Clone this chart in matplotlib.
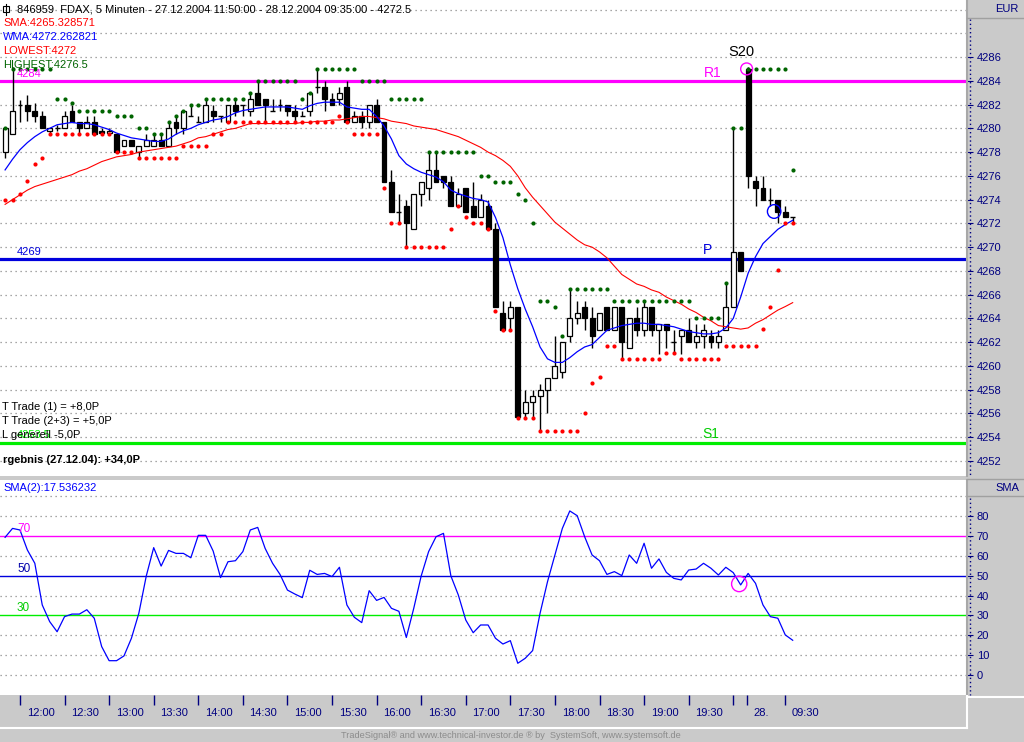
import numpy as np
import matplotlib
matplotlib.use('Agg')
import matplotlib.pyplot as plt
from matplotlib.patches import Rectangle, Ellipse
from matplotlib.lines import Line2D
from matplotlib.transforms import blended_transform_factory

plt.rcParams['font.family'] = ['Liberation Sans', 'DejaVu Sans']


########## Data (5 min bars, 27.12.2004 11:50 - 28.12.2004 09:35)
opens = [4278, 4279.5, 4282, 4282, 4281.5, 4281, 4279.8, 4280, 4280, 4281.5,
         4280.5, 4280, 4280.5, 4279.8, 4279.6, 4279.5, 4278.5, 4279, 4278, 4278.5,
         4278.5, 4279, 4278.5, 4280.5, 4280, 4281, 4280.5, 4280.5, 4281.5, 4281,
         4280.5, 4282, 4282, 4281.5, 4283, 4282.5, 4281.5, 4282, 4282, 4281.5,
         4281, 4281.5, 4283.5, 4283.5, 4282.5, 4282.5, 4283.5, 4280.5, 4281, 4280.5,
         4282, 4280.5, 4275.5, 4273, 4273.5, 4271.5, 4274.5, 4275, 4276.5, 4276,
         4275.5, 4273.5, 4275, 4273.5, 4272.5, 4273.5, 4271.5, 4264.5, 4264, 4265,
         4256, 4257, 4257.5, 4258, 4259, 4259.5, 4262.5, 4264, 4265, 4264,
         4263, 4265, 4263, 4265, 4261.5, 4264, 4263, 4265, 4263, 4263.5,
         4262, 4262.5, 4263, 4262, 4262.5, 4262.5, 4262, 4263, 4265, 4269.6,
         4285, 4275.6, 4275, 4274, 4274, 4273, 4272.5]
highs = [4280, 4285.2, 4282.4, 4282.8, 4282.1, 4281.5, 4280, 4280.3, 4281.5, 4282,
         4280.5, 4281, 4281, 4280, 4280, 4279.5, 4279, 4279, 4278.5, 4279.5,
         4279.5, 4279.5, 4280.5, 4281, 4281.5, 4282, 4281, 4282.5, 4282, 4281,
         4282, 4282.5, 4282, 4283, 4284, 4282.5, 4282.5, 4282.5, 4282, 4282,
         4281.5, 4283, 4285, 4284, 4283, 4283.5, 4284, 4281.5, 4281.5, 4282,
         4282.5, 4280.5, 4276.5, 4274.5, 4274, 4274.5, 4275.5, 4278, 4278, 4276,
         4276, 4275, 4275, 4275.5, 4274.5, 4274, 4272, 4265.5, 4265.5, 4265,
         4258, 4258, 4258.5, 4259, 4262.5, 4262, 4266.5, 4265.5, 4265.5, 4265,
         4264.5, 4265, 4265, 4265, 4264, 4265, 4265.5, 4265, 4263.5, 4263.5,
         4263, 4263, 4264, 4263.5, 4263.5, 4263, 4263, 4267, 4280, 4269.6,
         4285.2, 4276, 4276, 4275, 4274, 4273.5, 4272.5]
lows = [4277.5, 4279.5, 4280.5, 4280.6, 4280.5, 4280, 4279.6, 4279.8, 4280, 4280.5,
        4279.6, 4280, 4279.5, 4279.5, 4279.5, 4278, 4278.5, 4278.5, 4277.5, 4278.5,
        4278.5, 4278.5, 4278.5, 4279.5, 4279.5, 4281, 4280.5, 4280.5, 4280.5, 4280.5,
        4280.5, 4281, 4281, 4281, 4282, 4280.5, 4281.5, 4281.5, 4281, 4280.5,
        4281, 4281, 4283, 4281.5, 4282, 4282, 4280.5, 4280.5, 4280, 4280,
        4280.5, 4275.5, 4273, 4272, 4270, 4271.5, 4273.5, 4274, 4275.5, 4275,
        4273.5, 4273.5, 4273, 4272.5, 4272.5, 4271.5, 4265, 4263, 4263, 4255.7,
        4255.7, 4255.7, 4254.5, 4256, 4259, 4259, 4262, 4263.5, 4263, 4261.5,
        4263, 4263, 4263, 4260.5, 4261.5, 4262.5, 4262.5, 4262.5, 4261, 4261.5,
        4261, 4261, 4262, 4261.5, 4261.5, 4261.5, 4261.5, 4263, 4265, 4268,
        4275, 4273.5, 4274, 4273.5, 4272, 4272.5, 4272]
closes = [4280, 4281.5, 4282, 4281.5, 4281, 4280, 4280, 4280, 4281, 4280.5,
          4280, 4280.5, 4279.5, 4279.6, 4279.8, 4278, 4279, 4278.5, 4278.5, 4279,
          4279, 4278.5, 4280, 4280, 4281.5, 4281, 4280.5, 4282, 4281, 4281,
          4282, 4281.5, 4282, 4282.5, 4282, 4282, 4281.5, 4282, 4281.5, 4281,
          4281, 4283, 4283.5, 4282.5, 4282, 4283, 4280.5, 4281, 4280.5, 4282,
          4280.5, 4275.5, 4273, 4273, 4272, 4274.5, 4275.5, 4276.5, 4275.5, 4275.5,
          4273.5, 4274.5, 4273, 4272.5, 4274, 4271.5, 4265, 4263, 4265, 4255.7,
          4257, 4257.5, 4258, 4259, 4260, 4262, 4264, 4264.5, 4264, 4262.5,
          4264.5, 4263, 4265, 4262, 4264, 4263, 4265, 4263, 4263.5, 4263,
          4262, 4263, 4262, 4262.5, 4263, 4262, 4262.5, 4265, 4269.6, 4268,
          4276, 4275, 4274, 4274, 4273, 4272.5, 4272.5]

highest = [4280, 4285, 4285, 4285, 4285, 4285, 4285, 4282.5, 4282.5, 4282.1,
           4281.5, 4281.5, 4281.5, 4281.5, 4281.5, 4281, 4281, 4281, 4280, 4280,
           4279.5, 4279.5, 4280.5, 4281, 4281.5, 4282, 4282, 4282.5, 4282.5, 4282.5,
           4282.5, 4282.5, 4282.5, 4283, 4284, 4284, 4284, 4284, 4284, 4284,
           4282.5, 4283, 4285, 4285, 4285, 4285, 4285, 4285, 4284, 4284,
           4284, 4284, 4282.5, 4282.5, 4282.5, 4282.5, 4282.5, 4278, 4278, 4278,
           4278, 4278, 4278, 4278, 4276, 4276, 4275.5, 4275.5, 4275.5, 4274.5,
           4274, 4272, 4265.5, 4265.5, 4265, 4262.5, 4266.5, 4266.5, 4266.5, 4266.5,
           4266.5, 4266.5, 4265.5, 4265.5, 4265.5, 4265.5, 4265.5, 4265.5, 4265.5, 4265.5,
           4265.5, 4265.5, 4265.5, 4264, 4264, 4264, 4264, 4267, 4280, 4280,
           4285, 4285, 4285, 4285, 4285, 4285, 4276.5]
lowest = [4274, 4274, 4274.5, 4275.6, 4277, 4277.5, 4279.5, 4279.5, 4279.5, 4279.5,
          4279.5, 4279.5, 4279.5, 4279.5, 4279.5, 4278, 4278, 4278, 4277.5, 4277.5,
          4277.5, 4277.5, 4277.5, 4277.5, 4278.5, 4278.5, 4278.5, 4278.5, 4279.5, 4279.5,
          4280.5, 4280.5, 4280.5, 4280.5, 4280.5, 4280.5, 4280.5, 4280.5, 4280.5, 4280.5,
          4280.5, 4280.5, 4280.5, 4280.5, 4280.5, 4281, 4280.5, 4279.5, 4279.5, 4279.5,
          4279.5, 4275, 4272, 4272, 4270, 4270, 4270, 4270, 4270, 4270,
          4271.5, 4273.5, 4272.5, 4272, 4272, 4271.5, 4264.6, 4263, 4263, 4255.6,
          4255.6, 4255.6, 4254.5, 4254.5, 4254.5, 4254.5, 4254.5, 4254.5, 4256, 4258.6,
          4259.1, 4261.7, 4261.7, 4260.6, 4260.6, 4260.6, 4260.6, 4260.6, 4260.6, 4261.1,
          4261.1, 4260.6, 4260.6, 4260.6, 4260.6, 4260.6, 4260.6, 4261.7, 4261.7, 4261.7,
          4261.7, 4261.7, 4263.1, 4265, 4268.1, 4272, 4272]

wma = [4276.5, 4277.4, 4278.2, 4278.8, 4279.3, 4279.7, 4280.0, 4280.3, 4280.4, 4280.5,
       4280.4, 4280.4, 4280.3, 4280.1, 4279.9, 4279.6, 4279.4, 4279.2, 4279.1, 4279.0,
       4278.9, 4278.9, 4279.1, 4279.5, 4279.8, 4280.0, 4280.3, 4280.5, 4280.7, 4280.8,
       4281.0, 4281.3, 4281.5, 4281.6, 4281.7, 4281.8, 4281.8, 4281.8, 4281.8, 4281.7,
       4281.6, 4281.9, 4282.1, 4282.2, 4282.2, 4282.2, 4281.8, 4281.7, 4281.6, 4281.6,
       4281.0, 4280.2, 4279.1, 4277.7, 4277.0, 4276.6, 4276.3, 4276.1, 4275.9, 4275.5,
       4274.8, 4274.5, 4274.3, 4274.1, 4274.0, 4273.8, 4272.5, 4270.8, 4268.5, 4266.5,
       4264.8, 4263.3, 4261.6, 4260.6, 4260.3, 4260.3, 4260.7, 4261.2, 4261.6, 4261.8,
       4262.4, 4263.0, 4263.2, 4263.4, 4263.5, 4263.6, 4263.6, 4263.5, 4263.5, 4263.4,
       4263.3, 4263.1, 4262.9, 4262.8, 4262.7, 4262.7, 4262.8, 4263.2, 4264.0, 4265.8,
       4267.8, 4269.2, 4270.3, 4270.9, 4271.5, 4271.9, 4272.26]
sma = [4273.6, 4274.0, 4274.4, 4274.8, 4275.1, 4275.3, 4275.5, 4275.7, 4275.9, 4276.1,
       4276.4, 4276.6, 4276.9, 4277.2, 4277.4, 4277.6, 4277.7, 4277.8, 4278.0, 4278.1,
       4278.2, 4278.3, 4278.4, 4278.5, 4278.7, 4278.9, 4279.2, 4279.3, 4279.5, 4279.7,
       4279.9, 4280.0, 4280.2, 4280.4, 4280.4, 4280.4, 4280.4, 4280.4, 4280.4, 4280.4,
       4280.5, 4280.5, 4280.6, 4280.6, 4280.7, 4280.7, 4280.8, 4280.9, 4281.0, 4281.0,
       4280.9, 4280.8, 4280.6, 4280.5, 4280.4, 4280.2, 4280.1, 4280.0, 4279.9, 4279.7,
       4279.5, 4279.3, 4279.0, 4278.7, 4278.4, 4278.0, 4277.7, 4277.3, 4276.8, 4276.0,
       4275.0, 4274.2, 4273.5, 4272.8, 4272.1, 4271.6, 4271.1, 4270.6, 4270.2, 4270.0,
       4269.6, 4269.1, 4268.4, 4267.7, 4267.3, 4266.9, 4266.7, 4266.4, 4266.2, 4265.8,
       4265.5, 4265.2, 4264.8, 4264.5, 4264.1, 4263.8, 4263.4, 4263.3, 4263.2, 4263.1,
       4263.2, 4263.6, 4263.9, 4264.3, 4264.7, 4265.0, 4265.33]

sma2 = [69.4, 73.9, 73.1, 63.0, 56.3, 35.3, 26.9, 21.8, 29.4, 30.7,
        30.7, 32.9, 28.6, 14.3, 7.2, 7.2, 9.6, 18.5, 31.1, 49.9,
        64.2, 54.9, 62.8, 61.3, 61.3, 59.1, 70.4, 70.4, 62.5, 49.1,
        57.1, 57.6, 62.2, 73.1, 74.4, 63.8, 56.3, 50.7, 42.8, 40.8,
        39.0, 52.8, 50.7, 51.2, 49.6, 54.3, 35.3, 29.1, 26.4, 42.5,
        37.6, 39.1, 33.6, 32.1, 18.9, 33.6, 49.9, 62.2, 69.7, 71.4,
        49.9, 40.3, 27.7, 21.3, 25.2, 25.2, 18.5, 15.6, 17.3, 5.9,
        8.4, 12.3, 31.1, 47.0, 60.5, 73.9, 82.7, 80.3, 69.7, 60.5,
        57.6, 50.7, 52.1, 50.1, 60.5, 56.3, 66.4, 53.8, 58.5, 51.7,
        48.7, 47.9, 52.9, 53.4, 56.3, 53.8, 50.4, 54.3, 51.6, 45.4,
        51.2, 46.2, 35.3, 29.4, 28.6, 20.2, 17.5]

r1_level = 4284
p_level = 4269
s1_level = 4253.5

time_ticks = [2, 8, 14, 20, 26, 32, 38, 44, 50, 56, 62, 68, 74, 80, 86, 92, 98, 99.85, 105]
time_labels = ['12:00', '12:30', '13:00', '13:30', '14:00', '14:30', '15:00', '15:30',
               '16:00', '16:30', '17:00', '17:30', '18:00', '18:30', '19:00', '19:30',
               '', '28.', '09:30']

price_ticks = list(range(4252, 4287, 2))
ind_ticks = list(range(0, 81, 10))



########## Figure layout (pixel boxes)
W, H = 1024, 742
BG = '#cacaca'
NAVY = '#000080'
DOT_GRID = '#8a8a8a'

fig = plt.figure(figsize=(W / 100, H / 100), dpi=100, facecolor=BG)


def px_axes(x0, y0, x1, y1):
    return fig.add_axes([x0 / W, 1 - y1 / H, (x1 - x0) / W, (y1 - y0) / H])


ax = px_axes(0, 0, 967, 476)
axi = px_axes(0, 480, 967, 695)

xlim = (-0.686, 129.46)
n = len(opens)
idx = np.arange(n)



########## Price panel
ax.set_facecolor('white')
ax.set_xlim(*xlim)
ax.set_ylim(4250.74, 4290.8)

for lev in range(4252, 4291, 2):
    ax.axhline(lev, color=DOT_GRID, lw=0.9, ls=(0, (1, 3)), zorder=0)

### Support / resistance lines
ax.axhline(r1_level, color='#ff00ff', lw=2.3, zorder=1)
ax.axhline(p_level, color='#0000dd', lw=2.3, zorder=1)
ax.axhline(s1_level, color='#00ee00', lw=2.3, zorder=1)

### Candles
bw = 0.66
ax.vlines(idx, lows, highs, color='black', lw=1, zorder=2)
for i in range(n):
    o, c = opens[i], closes[i]
    if abs(c - o) < 0.05:
        ax.hlines(o, i - bw / 2, i + bw / 2, color='black', lw=1, zorder=3)
    else:
        fc = 'white' if c > o else 'black'
        ax.add_patch(Rectangle((i - bw / 2, min(o, c)), bw, abs(c - o),
                               facecolor=fc, edgecolor='black', lw=0.9, zorder=3))

### Moving averages
ax.plot(idx, sma, color='#ff0000', lw=0.8, zorder=4)
ax.plot(idx, wma, color='#0000ff', lw=0.9, zorder=4)

### Highest / lowest dots
ax.plot(idx, highest, 'o', color='#006400', ms=3, mec='none', zorder=5)
ax.plot(idx, lowest, 'o', color='#ff0000', ms=3, mec='none', zorder=5)

### Circles
ax.add_patch(Ellipse((99.8, 4285.0), 1.6, 1.0, fill=False, ec='#ff00ff', lw=1, zorder=6))
ax.add_patch(Ellipse((103.5, 4273.0), 1.8, 1.15, fill=False, ec='#0000ff', lw=1, zorder=6))

### Level labels
ax.text(1.6, r1_level + 0.15, '4284', color='#ff00ff', fontsize=8, va='bottom', zorder=7)
ax.text(1.6, p_level + 0.15, '4269', color='#0000dd', fontsize=8, va='bottom', zorder=7)
ax.text(1.6, s1_level + 0.25, '4253.5', color='#00ee00', fontsize=8, va='bottom', zorder=7)
ax.text(95.2, r1_level + 0.05, 'R1', color='#ff00ff', fontsize=10, ha='center', va='bottom', zorder=7)
ax.text(94.6, p_level + 0.15, 'P', color='#0000dd', fontsize=10, ha='center', va='bottom', zorder=7)
ax.text(95.0, s1_level + 0.15, 'S1', color='#00cc00', fontsize=10, ha='center', va='bottom', zorder=7)
ax.text(99.1, 4286.4, 'S20', color='black', fontsize=10.5, ha='center', va='center', zorder=7)

### Header texts
def axtext(xp, yp, s, **kw):
    ax.text(xp / 967, 1 - yp / 476, s, transform=ax.transAxes, va='center', zorder=8, **kw)

axtext(17, 9, '846959  FDAX, 5 Minuten - 27.12.2004 11:50:00 - 28.12.2004 09:35:00 - 4272.5',
       color='black', fontsize=8)
axtext(3, 23, 'SMA:4265.328571', color='#ff0000', fontsize=8)
axtext(3, 37, 'WMA:4272.262821', color='#0000ff', fontsize=8)
axtext(3, 51, 'LOWEST:4272', color='#ff0000', fontsize=8)
axtext(3, 65, 'HIGHEST:4276.5', color='#006400', fontsize=8)
axtext(2, 407, 'T Trade (1) = +8,0P', color='black', fontsize=8)
axtext(2, 421, 'T Trade (2+3) = +5,0P', color='black', fontsize=8)
axtext(2, 435, 'L generell -5,0P', color='black', fontsize=8)
axtext(3, 460, 'rgebnis (27.12.04): +34,0P', color='black', fontsize=8, fontweight='bold')

### small chart icon in the title
ax.add_patch(Rectangle((3 / 967, 1 - 12 / 476), 6 / 967, 6 / 476, transform=ax.transAxes,
                       fill=False, ec='black', lw=0.8, zorder=8))
ax.plot([6 / 967, 6 / 967], [1 - 4 / 476, 1 - 15 / 476], transform=ax.transAxes,
        color='black', lw=0.8, zorder=8)

ax.set_xticks([])
ax.yaxis.tick_right()
ax.set_yticks(price_ticks)
ax.set_yticklabels([str(t) for t in price_ticks])
ax.tick_params(axis='y', direction='out', length=4, color=NAVY, labelcolor=NAVY,
               labelsize=8, pad=3)
for side in ['top', 'left', 'bottom']:
    ax.spines[side].set_visible(False)
ax.spines['right'].set_color('#a8a8a8')
ax.spines['right'].set_linewidth(1.5)



########## Indicator panel
axi.set_facecolor('white')
axi.set_xlim(*xlim)
axi.set_ylim(-10.1, 98.3)
for lev in range(0, 91, 10):
    if lev not in (30, 50, 70):
        axi.axhline(lev, color=DOT_GRID, lw=0.9, ls=(0, (1, 3)), zorder=0)
axi.axhline(70, color='#ff00ff', lw=1, zorder=1)
axi.axhline(50, color='#0000dd', lw=1, zorder=1)
axi.axhline(30, color='#00ee00', lw=1, zorder=1)
axi.plot(idx, sma2, color='#0000ff', lw=0.9, zorder=3)
axi.add_patch(Ellipse((98.8, 45.9), 2.05, 7.8, fill=False, ec='#ff00ff', lw=1, zorder=4))

axi.text(1.6, 70.5, '70', color='#ff00ff', fontsize=8.5, va='bottom')
axi.text(1.6, 50.5, '50', color='#0000aa', fontsize=8.5, va='bottom')
axi.text(1.6, 30.5, '30', color='#00cc00', fontsize=8.5, va='bottom')
axi.text(3 / 967, 1 - 8.5 / 215, 'SMA(2):17.536232', transform=axi.transAxes,
         color='#0000ff', fontsize=8, va='center')

axi.yaxis.tick_right()
axi.set_yticks(ind_ticks)
axi.set_yticklabels([str(t) for t in ind_ticks])
axi.tick_params(axis='y', direction='out', length=4, color=NAVY, labelcolor=NAVY,
                labelsize=8, pad=3)
axi.set_xticks(time_ticks)
axi.set_xticklabels([])
axi.tick_params(axis='x', direction='out', length=7, color=NAVY, width=1)
for side in ['top', 'left', 'bottom']:
    axi.spines[side].set_visible(False)
axi.spines['right'].set_color('#a8a8a8')
axi.spines['right'].set_linewidth(1.5)

trans = blended_transform_factory(axi.transData, axi.transAxes)
for pos, lab in zip(time_ticks, time_labels):
    axi.text(pos + 0.9, -18 / 215, lab, transform=trans, color=NAVY, fontsize=8,
             ha='left', va='center')



########## Frame decoration outside the axes
def fline(xs, ys, **kw):
    fig.add_artist(Line2D([x / W for x in xs], [1 - y / H for y in ys], **kw))

fline([970, 970], [19, 476], color=NAVY, lw=1, ls=(0, (1, 2)))
fline([970, 970], [498, 695], color=NAVY, lw=1, ls=(0, (1, 2)))
fline([967, 1024], [18, 18], color='#a0a0a0', lw=1)
fline([967, 1024], [496, 496], color='#a0a0a0', lw=1)
fline([967, 1024], [479, 479], color='#a0a0a0', lw=1)
fline([0, 967], [728, 728], color='white', lw=1.5)
fline([967, 967], [696, 728], color='white', lw=1.5)
fline([967, 1024], [697, 697], color='white', lw=1.5)

fig.text(1019 / W, 1 - 9 / H, 'EUR', color=NAVY, fontsize=8, ha='right', va='center')
fig.text(1019 / W, 1 - 488 / H, 'SMA', color=NAVY, fontsize=8, ha='right', va='center')
fig.text(511 / W, 1 - 736 / H,
         'TradeSignal\u00ae and www.technical-investor.de \u00ae by  SystemSoft, www.systemsoft.de',
         color='#8c8c8c', fontsize=6.6, ha='center', va='center')

plt.savefig('out.png', dpi=100, facecolor=BG)
plt.close()
